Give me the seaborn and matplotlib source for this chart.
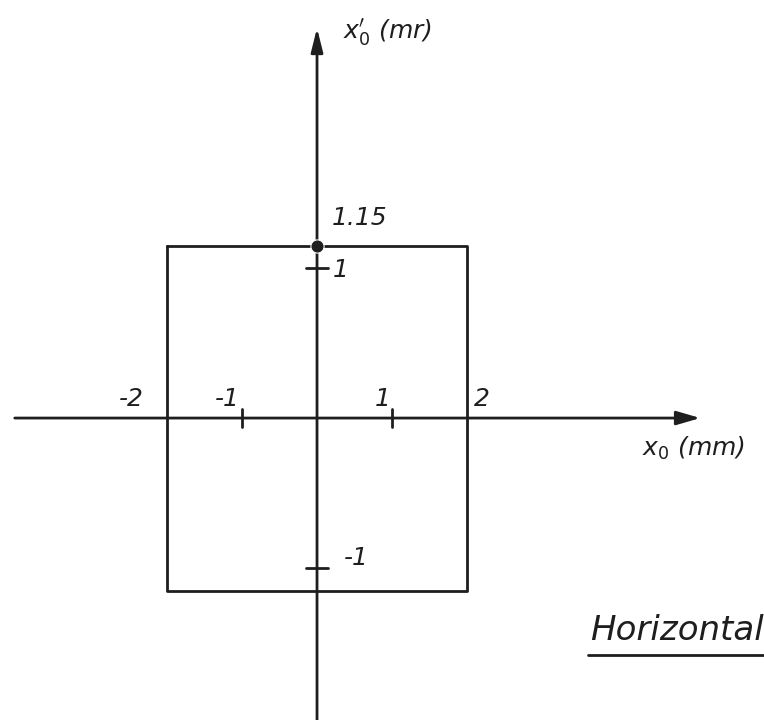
import matplotlib
matplotlib.use("Agg")
import matplotlib.pyplot as plt
import seaborn as sns
import pandas as pd

# Acceptance rectangle in horizontal phase space (x0 in mm, x0' in mrad)
half_width_mm = 2.0
half_angle_mr = 1.15
x_ticks = [-1, 1]
y_ticks = [-1, 1]
x_tick_labels = ["-2", "-1", "1", "2"]
x_label_pos = [-2.47, -1.19, 0.88, 2.2]
y_tick_labels = ["1", "-1"]

sns.set_theme(style="white")
plt.rcParams["font.family"] = ["DejaVu Sans"]

ink = "#1e1e1e"
lw = 2.0

fig = plt.figure(figsize=(7.64, 7.20), dpi=100)
ax = fig.add_axes([0, 0, 1, 1])
ax.set_xlim(-4.227, 5.96)
ax.set_ylim(-2.013, 2.787)
ax.set_axis_off()

# rectangle outline
rect = pd.DataFrame({
    "x": [-half_width_mm, half_width_mm, half_width_mm, -half_width_mm, -half_width_mm],
    "y": [half_angle_mr, half_angle_mr, -half_angle_mr, -half_angle_mr, half_angle_mr],
})
sns.lineplot(data=rect, x="x", y="y", sort=False, estimator=None,
             color=ink, linewidth=lw, ax=ax)

# coordinate axes with arrowheads
ax.annotate("", xy=(5.11, 0), xytext=(-4.03, 0),
            arrowprops=dict(arrowstyle="-|>,head_length=1.2,head_width=0.35",
                            color=ink, lw=lw, shrinkA=0, shrinkB=0))
ax.annotate("", xy=(0, 2.6), xytext=(0, -2.1),
            arrowprops=dict(arrowstyle="-|>,head_length=1.2,head_width=0.3",
                            color=ink, lw=lw, shrinkA=0, shrinkB=0))

# small tick marks
for xt in x_ticks:
    ax.plot([xt, xt], [-0.06, 0.06], color=ink, lw=lw)
for yt in y_ticks:
    ax.plot([-0.15, 0.15], [yt, yt], color=ink, lw=lw)

# maximum angle point
sns.scatterplot(x=[0], y=[half_angle_mr], color=ink, s=90, ax=ax, zorder=5)

txt = dict(color=ink, fontstyle="italic", fontsize=18)
for lab, xp in zip(x_tick_labels, x_label_pos):
    ax.text(xp, 0.13, lab, ha="center", va="center", **txt)
ax.text(0.2, 1.333, "1.15", ha="left", va="center", **txt)
ax.text(0.32, 0.987, y_tick_labels[0], ha="center", va="center", **txt)
ax.text(0.53, -0.93, y_tick_labels[1], ha="center", va="center", **txt)

ax.text(0.35, 2.567, r"x$_0'$ (mr)", ha="left", va="center", **txt)
ax.text(4.33, -0.2, r"x$_0$ (mm)", ha="left", va="center", **txt)

ax.text(3.64, -1.413, "Horizontal", ha="left", va="center",
        color=ink, fontstyle="italic", fontsize=24.5)
ax.plot([3.61, 6.0], [-1.58, -1.58], color=ink, lw=lw)

fig.savefig("out.png", dpi=100, facecolor="white")
